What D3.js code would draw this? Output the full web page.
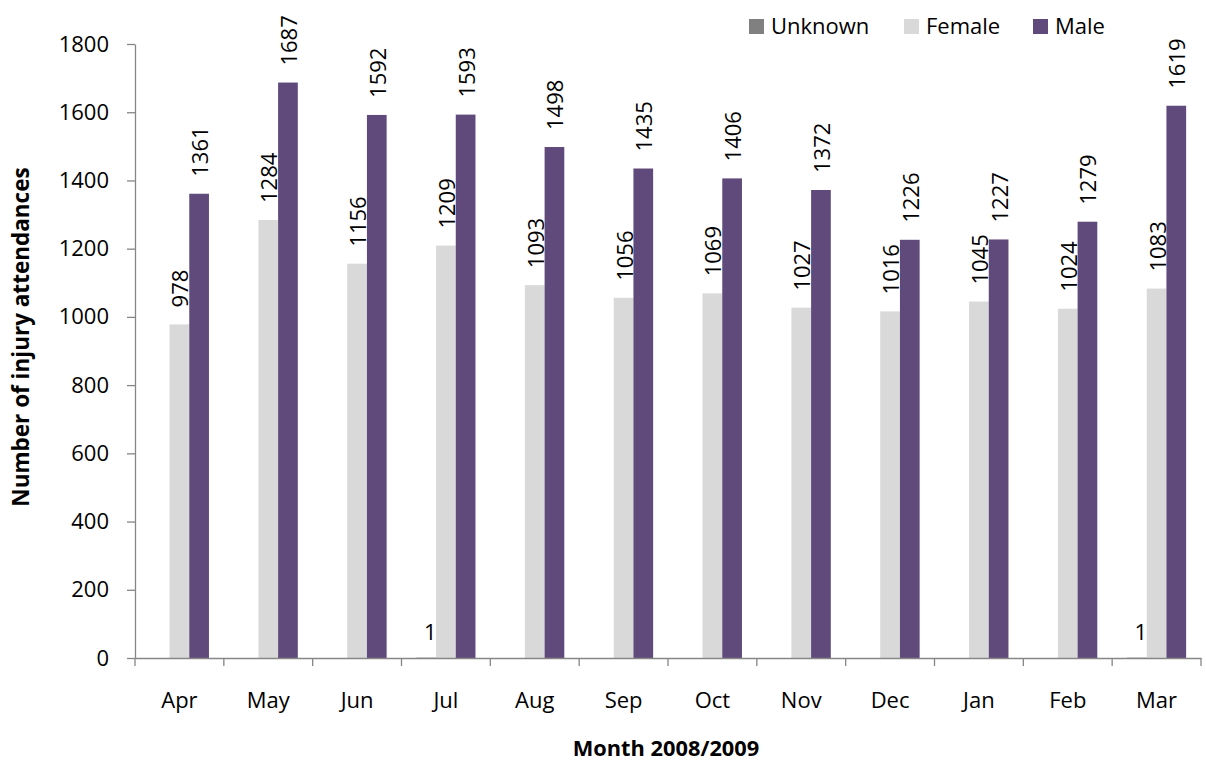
<!DOCTYPE html>
<html lang="en">
<head>
<meta charset="UTF-8">
<title>Injury attendances by month</title>
<script src="https://d3js.org/d3.v7.min.js"></script>
<style>
  body { margin: 0; background: #fff; }
  svg { font-family: "Open Sans", sans-serif; }
  .axis-title { font-weight: bold; }
</style>
</head>
<body>
<div id="chart"></div>
<script>
const months = ["Apr", "May", "Jun", "Jul", "Aug", "Sep", "Oct", "Nov", "Dec", "Jan", "Feb", "Mar"];
const unknown = [0, 0, 0, 1, 0, 0, 0, 0, 0, 0, 0, 1];
const female = [978, 1284, 1156, 1209, 1093, 1056, 1069, 1027, 1016, 1045, 1024, 1083];
const male = [1361, 1687, 1592, 1593, 1498, 1435, 1406, 1372, 1226, 1227, 1279, 1619];
const yTicks = [0, 200, 400, 600, 800, 1000, 1200, 1400, 1600, 1800];

const series = [
  { name: "Unknown", values: unknown, color: "#808080" },
  { name: "Female", values: female, color: "#d9d9d9" },
  { name: "Male", values: male, color: "#604a7b" }
];

const width = 1206, height = 763;
const margin = { left: 135, right: 5, top: 44, bottom: 105 };

const svg = d3.select("#chart").append("svg")
  .attr("width", width)
  .attr("height", height);

const x = d3.scaleBand()
  .domain(months)
  .range([margin.left, width - margin.right]);

const y = d3.scaleLinear()
  .domain([0, 1800])
  .range([height - margin.bottom, margin.top]);

const barW = 19.7;
const axisColor = "#868686";
const fs = 22;

// bars
series.forEach((s, si) => {
  const off = (si - 1) * barW;
  svg.append("g").selectAll("rect")
    .data(s.values)
    .join("rect")
    .attr("x", (d, i) => x(months[i]) + x.bandwidth() / 2 + off - barW / 2)
    .attr("y", d => y(d))
    .attr("width", barW)
    .attr("height", d => y(0) - y(d))
    .attr("fill", s.color);
});

// data labels (rotated)
[female, male].forEach((vals, k) => {
  const off = k * barW;
  svg.append("g").selectAll("text")
    .data(vals)
    .join("text")
    .attr("transform", (d, i) => {
      const cx = x(months[i]) + x.bandwidth() / 2 + off;
      return `translate(${cx + 9},${y(d) - 17}) rotate(-90)`;
    })
    .attr("font-size", fs)
    .attr("fill", "#000")
    .text(d => d);
});

// unknown labels (upright)
svg.append("g").selectAll("text")
  .data(unknown.map((d, i) => ({ d, i })).filter(o => o.d > 0))
  .join("text")
  .attr("x", o => x(months[o.i]) + x.bandwidth() / 2 - barW + 4)
  .attr("y", y(0) - 18)
  .attr("text-anchor", "middle")
  .attr("font-size", fs)
  .text(o => o.d);

// y axis
const yAxis = svg.append("g")
  .attr("transform", `translate(${margin.left},0)`)
  .call(d3.axisLeft(y).tickValues(yTicks).tickFormat(d3.format("d"))
    .tickSize(8).tickPadding(18).tickSizeOuter(0));
yAxis.select(".domain").attr("stroke", axisColor).attr("stroke-width", 1.3);
yAxis.selectAll(".tick line").attr("stroke", axisColor).attr("stroke-width", 1.3);
yAxis.selectAll(".tick text").attr("font-size", fs).attr("font-family", "Open Sans").attr("fill", "#000");

// x axis
const xAxis = svg.append("g")
  .attr("transform", `translate(0,${y(0)})`)
  .call(d3.axisBottom(x).tickSize(0).tickPadding(34));
xAxis.select(".domain").attr("stroke", axisColor).attr("stroke-width", 1.3);
xAxis.selectAll(".tick text").attr("font-size", fs).attr("font-family", "Open Sans").attr("fill", "#000");
const bounds = [margin.left].concat(months.map(m => x(m) + x.bandwidth()));
xAxis.append("g").selectAll("line")
  .data(bounds)
  .join("line")
  .attr("x1", d => d)
  .attr("x2", d => d)
  .attr("y1", 0)
  .attr("y2", 8)
  .attr("stroke", axisColor)
  .attr("stroke-width", 1.3);

// axis titles
svg.append("text")
  .attr("class", "axis-title")
  .attr("font-size", 22.5)
  .attr("transform", "translate(29,337) rotate(-90)")
  .attr("text-anchor", "middle")
  .text("Number of injury attendances");

svg.append("text")
  .attr("class", "axis-title")
  .attr("font-size", 21.8)
  .attr("x", 666)
  .attr("y", 756)
  .attr("text-anchor", "middle")
  .text("Month 2008/2009");

// legend
const legendX = [749, 904, 1033];
const legend = svg.append("g");
series.forEach((s, i) => {
  legend.append("rect")
    .attr("x", legendX[i]).attr("y", 19)
    .attr("width", 15).attr("height", 15)
    .attr("fill", s.color);
  legend.append("text")
    .attr("x", legendX[i] + 22).attr("y", 34)
    .attr("font-size", fs)
    .text(s.name);
});
</script>
</body>
</html>
